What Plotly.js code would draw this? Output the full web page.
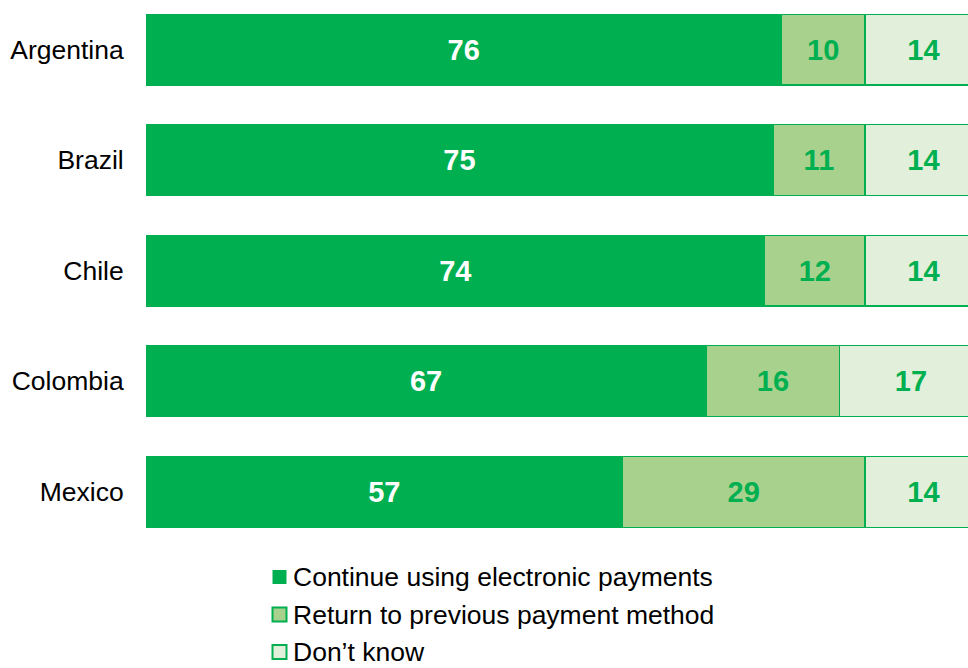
<!DOCTYPE html>
<html>
<head>
<meta charset="utf-8">
<script src="https://cdn.plot.ly/plotly-3.0.1.min.js"></script>
<style>
  html, body { margin: 0; padding: 0; background: #ffffff; }
  #chart { width: 968px; height: 668px; }
</style>
</head>
<body>
<div id="chart"></div>
<script>
// Share of respondents (%) by country
const countries = ["Argentina", "Brazil", "Chile", "Colombia", "Mexico"];
const continueElectronic = [76, 75, 74, 67, 57];
const returnPrevious = [10, 11, 12, 16, 29];
const dontKnow = [14, 14, 14, 17, 14];

const seriesNames = [
  "Continue using electronic payments",
  "Return to previous payment method",
  "Don\u2019t know"
];

const GREEN = "#00B050";
const fills = ["#00B050", "#A9D18E", "#E2EFDA"];
const textColors = ["#ffffff", GREEN, GREEN];
const seriesValues = [continueElectronic, returnPrevious, dontKnow];
const FONT = "Liberation Sans, Arial, sans-serif";

const W = 968, H = 668;
const M = { l: 146, r: 0, t: 0, b: 121 };
const plotW = W - M.l - M.r;
const plotH = H - M.t - M.b;
// pixel -> paper coordinate helpers for the legend block under the plot
const px2x = px => (px - M.l) / plotW;
const py2y = py => (plotH + M.t - py) / plotH;

const traces = seriesValues.map((vals, i) => ({
  type: "bar",
  orientation: "h",
  name: seriesNames[i],
  y: countries,
  x: vals,
  text: vals.map(String),
  texttemplate: "%{text}",
  textposition: "inside",
  insidetextanchor: "middle",
  textangle: 0,
  constraintext: "none",
  textfont: { family: FONT, size: 29, color: textColors[i], weight: 700 },
  marker: { color: fills[i], line: { color: GREEN, width: 1.2 } },
  hoverinfo: "skip",
  cliponaxis: true,
  showlegend: false
}));

// Legend: swatch squares plus labels, stacked vertically below the bars
const legendTop = 577, legendStep = 37.5, swatchLeft = 272.5, swatch = 14;
const shapes = [];
const annotations = [];
seriesNames.forEach((name, i) => {
  const cy = legendTop + i * legendStep;
  shapes.push({
    type: "rect", xref: "paper", yref: "paper",
    x0: px2x(swatchLeft), x1: px2x(swatchLeft + swatch),
    y0: py2y(cy + swatch / 2), y1: py2y(cy - swatch / 2),
    fillcolor: fills[i],
    line: { color: GREEN, width: i === 0 ? 0 : 2 }
  });
  annotations.push({
    xref: "paper", yref: "paper",
    x: px2x(291), y: py2y(cy),
    xanchor: "left", yanchor: "middle",
    text: name, showarrow: false,
    font: { family: FONT, size: 26.5, color: "#000000" }
  });
});

const layout = {
  width: W,
  height: H,
  barmode: "stack",
  bargap: 0.36,
  paper_bgcolor: "#ffffff",
  plot_bgcolor: "#ffffff",
  margin: M,
  font: { family: FONT, size: 26.5, color: "#000000" },
  showlegend: false,
  xaxis: {
    range: [0, 98.33],
    showgrid: false,
    zeroline: false,
    showticklabels: false,
    showline: false,
    ticks: "",
    fixedrange: true
  },
  yaxis: {
    type: "category",
    categoryorder: "array",
    categoryarray: countries,
    range: [4.5, -0.448],
    showgrid: false,
    zeroline: false,
    showline: false,
    ticks: "outside",
    ticklen: 16,
    tickcolor: "rgba(0,0,0,0)",
    tickfont: { family: FONT, size: 26.5, color: "#000000" },
    automargin: false,
    fixedrange: true
  },
  shapes: shapes,
  annotations: annotations
};

Plotly.newPlot("chart", traces, layout, { displayModeBar: false, staticPlot: true });
</script>
</body>
</html>
